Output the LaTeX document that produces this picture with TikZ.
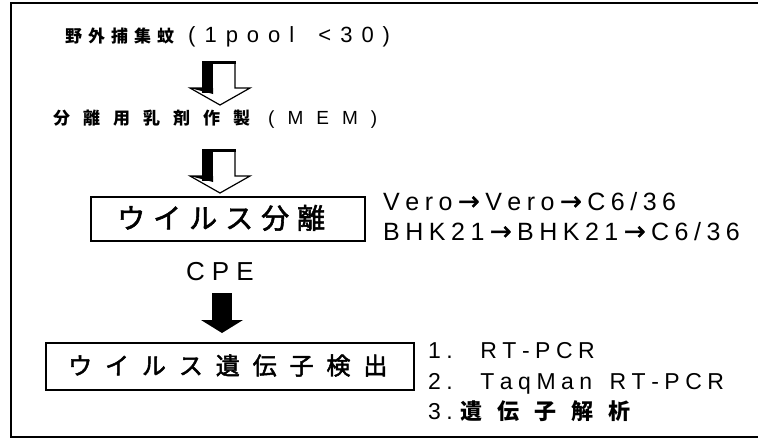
\documentclass[tikz,border=0pt]{standalone}
\usepackage{fontspec}
\setmainfont{Liberation Sans}
\newfontfamily\jp{Noto Sans CJK JP}
\newfontfamily\jpm{Noto Sans CJK JP}[FakeBold=2]
\newfontfamily\lat{Liberation Sans}
\newfontfamily\dvb{DejaVu Sans}[FakeBold=1.5]
\newcommand\fs[1]{\fontsize{#1}{#1}\selectfont}
\newcommand\ar{{\dvb\fs{26}→}}
\makeatletter
\newcommand\tr[2]{\def\tr@k{#1}\@tfor\tr@c:=#2\do{\tr@c\kern\tr@k pt}}
\makeatother
\begin{document}
\begin{tikzpicture}[x=1pt,y=-1pt,
  txt/.style={inner sep=0pt, anchor=base west},
  box/.style={draw, line width=1.8pt, inner sep=0pt, anchor=north west},
  hollowarrow/.pic={
    \draw[line width=1.2pt, line join=miter] (-17,0) -- (15,0) -- (15,26) -- (30,26) -- (0,43) -- (-30,26) -- (-17,26) -- cycle;
    \fill (-18,-1.5) rectangle (-7,31);
    \fill (-18,-1.5) rectangle (15.6,2);
    \fill (-30,26) -- (-7,26) -- (-7,32) -- cycle;
  },
  blackarrow/.pic={
    \fill (-10,0) rectangle (10,27);
    \fill (-21,27) -- (21,27) -- (0,40) -- cycle;
  }]
\useasboundingbox (0,0) rectangle (758,439);
\draw[line width=2.5pt] (11,3) rectangle (775,437);

\node[txt] (l1) at (65,42) {\jp\bfseries\fs{17}\tr{6}{野外捕集蚊}\hspace*{8pt}\lat\mdseries\fs{22}\tr{9}{(1pool\ <30)}};
\node[txt] (l2) at (53,124) {\jp\bfseries\fs{17}\tr{13}{分離用乳剤作製}\hspace*{5pt}\lat\mdseries\fs{19}\tr{13}{(MEM)}};

\pic at (220,62) {hollowarrow};
\pic at (220,150) {hollowarrow};

\node[box, minimum width=274, minimum height=44] (b1) at (90,196) {};
\node[txt] (t1) at (117,228.5) {\jpm\fs{28}\tr{8}{ウイルス分離}};

\node[txt] (v1) at (383,210) {\lat\fs{25}\tr{5.5}{Vero\ar Vero\ar C6/36}};
\node[txt] (v2) at (383,240) {\lat\fs{25}\tr{5.5}{BHK21\ar BHK21\ar C6/36}};

\node[txt] (cpe) at (186,280) {\lat\fs{26}\tr{7}{CPE}};
\pic at (222,293) {blackarrow};

\node[box, minimum width=368, minimum height=47] (b2) at (45,342) {};
\node[txt] (t2) at (68,374.6) {\jpm\fs{24}\tr{12.9}{ウイルス遺伝子検出}};

\node[txt] (r1) at (428,358.3) {\lat\fs{23}\tr{5.5}{1.}\hspace*{22pt}\tr{5.5}{RT-PCR}};
\node[txt] (r2) at (428,389.3) {\lat\fs{23}\tr{5.5}{2.}\hspace*{22pt}\tr{5.5}{TaqMan\ RT-PCR}};
\node[txt] (r3) at (428,419.4) {\lat\fs{23}\tr{5.5}{3.}\hspace*{2pt}\jp\bfseries\fs{22}\tr{15}{遺伝子解析}};
\end{tikzpicture}
\end{document}
